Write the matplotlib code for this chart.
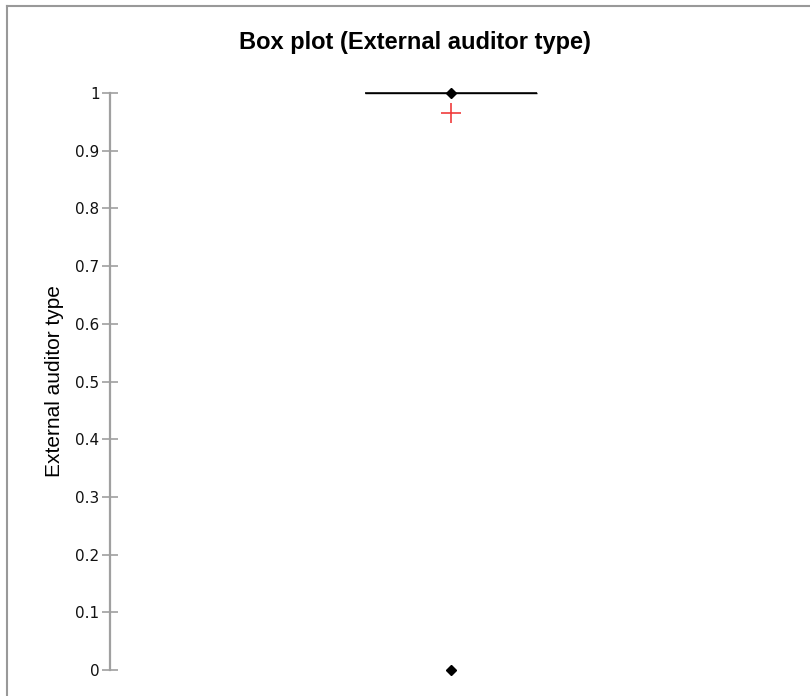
import matplotlib.pyplot as plt
from matplotlib.lines import Line2D

# summary statistics of the variable (binary 0/1)
variable = "External auditor type"
minimum = 0
q1 = 1
median = 1
q3 = 1
maximum = 1
mean = 0.965
yticks = [0, 0.1, 0.2, 0.3, 0.4, 0.5, 0.6, 0.7, 0.8, 0.9, 1]
ytick_labels = ["0", "0.1", "0.2", "0.3", "0.4", "0.5", "0.6", "0.7", "0.8", "0.9", "1"]

W, H = 810, 696
fig = plt.figure(figsize=(W / 100, H / 100), dpi=100)
ax = fig.add_axes([110 / W, 26 / H, 682 / W, 577 / H])
ax.set_xlim(0, 1)
ax.set_ylim(0, 1)

# box (collapsed) and median
ax.fill_between([0.374, 0.626], q1, q3, color="none", edgecolor="black", linewidth=1.0, clip_on=False)
ax.hlines(median, 0.374, 0.626, color="black", linewidth=1.1, clip_on=False)
# min / max
ax.plot([0.5, 0.5], [minimum, maximum], linestyle="none", marker="D", markersize=5.5,
        color="black", clip_on=False)
# mean
ax.plot([0.5], [mean], linestyle="none", marker="+", markersize=15, markeredgewidth=1.2,
        color="#f03c3c", clip_on=False)

for s in ["top", "right", "bottom"]:
    ax.spines[s].set_visible(False)
ax.spines["left"].set_color("#a0a0a0")
ax.spines["left"].set_linewidth(1.6)
ax.spines["left"].set_bounds(0, 1)
ax.set_xticks([])
ax.set_yticks(yticks)
ax.set_yticklabels(ytick_labels)
ax.tick_params(axis="y", direction="inout", length=11, width=1.2, color="#a0a0a0",
               labelsize=11, pad=2, labelcolor="#111111")

fig.text(415 / W, 1 - 43 / H, "Box plot (External auditor type)", ha="center", va="center",
         fontsize=17, fontweight="bold", family="Liberation Sans")
fig.text(55 / W, 1 - 381 / H, variable, ha="center", va="center", rotation=90,
         fontsize=15, family="Liberation Sans")

# frame around the figure (left and top visible)
fig.add_artist(Line2D([7 / W, 7 / W], [0, 1 - 6 / H], color="#999999", linewidth=1.5))
fig.add_artist(Line2D([7 / W, 1], [1 - 6 / H, 1 - 6 / H], color="#999999", linewidth=1.5))

fig.savefig("out.png", dpi=100)
